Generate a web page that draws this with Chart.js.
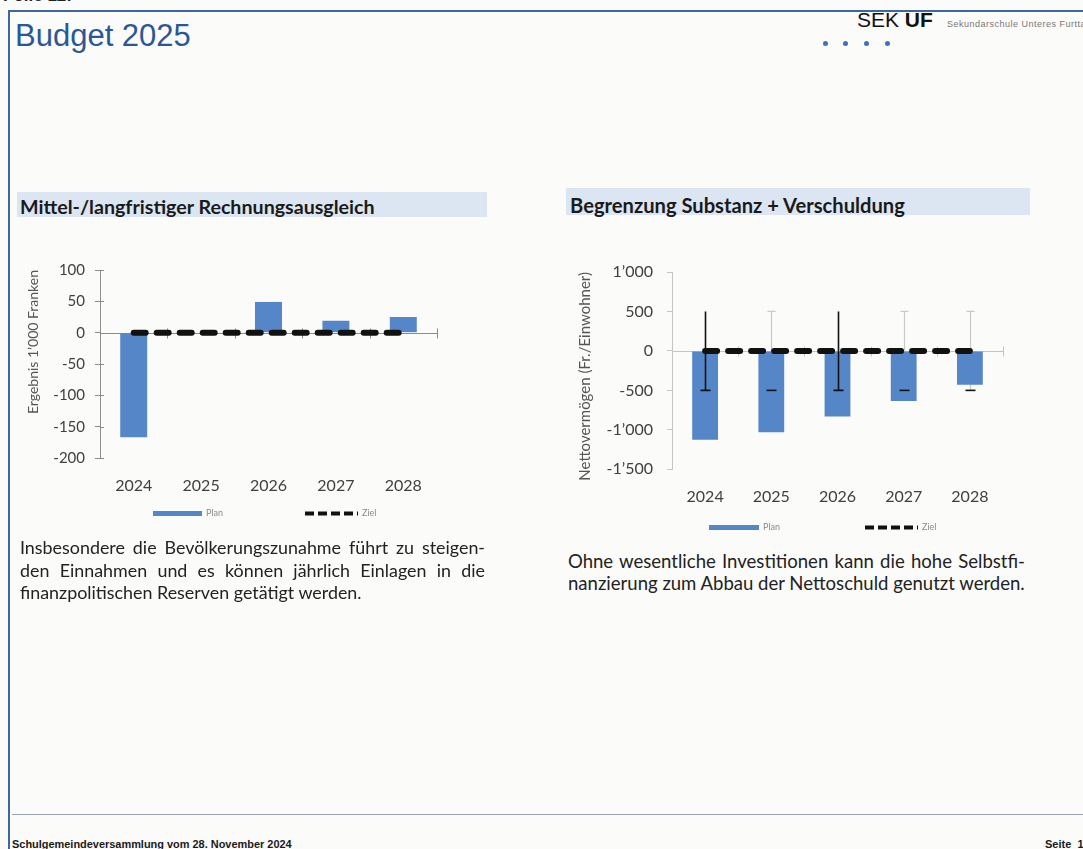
<!DOCTYPE html>
<html><head><meta charset="utf-8">
<script src="https://cdn.jsdelivr.net/npm/chart.js@4.4.1/dist/chart.umd.min.js"></script>
<style>
html,body{margin:0;padding:0;}
body{width:1083px;height:849px;background:#fbfbfa;position:relative;overflow:hidden;font-family:"Liberation Sans",Arial,sans-serif;}
.a{position:absolute;line-height:1;white-space:nowrap;}
.band{position:absolute;background:#dce6f2;}
.hdr{font-family:Lato;font-weight:bold;color:#1a1a1a;}
.para{font-family:Lato;color:#222;}
.line{position:absolute;line-height:1;white-space:nowrap;}
.j{text-align:justify;text-align-last:justify;white-space:normal;}
canvas{position:absolute;}
.dot{position:absolute;width:5px;height:5px;border-radius:50%;background:#3f72b8;}
</style></head><body>
<div class="a" style="left:3px;top:-13px;font-size:17px;font-weight:bold;color:#222;">Folie 12:</div>
<div class="a" style="left:8px;top:10px;width:1075px;border-top:2px solid #3d66a3;"></div>
<div class="a" style="left:8px;top:10px;height:839px;border-left:2px solid #3d66a3;"></div>
<div class="a" style="left:15px;top:20px;font-size:31px;color:#2b5797;">Budget 2025</div>
<div class="a" style="left:857px;top:9px;font-size:21px;color:#111;">SEK <b>UF</b></div>
<div class="a" style="left:947px;top:20px;font-size:9px;letter-spacing:0.5px;color:#777;">Sekundarschule Unteres Furttal</div>
<div class="dot" style="left:823px;top:41px;"></div>
<div class="dot" style="left:843px;top:41px;"></div>
<div class="dot" style="left:864px;top:41px;"></div>
<div class="dot" style="left:885px;top:41px;"></div>

<div class="band" style="left:17px;top:192px;width:470px;height:25px;"></div>
<div class="a hdr" id="h1" style="left:20px;top:197px;">Mittel-/langfristiger Rechnungsausgleich</div>
<div class="band" style="left:566px;top:188px;width:464px;height:27px;"></div>
<div class="a hdr" id="h2" style="left:570px;top:195px;">Begrenzung Substanz + Verschuldung</div>

<canvas id="c1" width="490" height="310" style="left:0px;top:230px;"></canvas>
<canvas id="c2" width="490" height="320" style="left:550px;top:230px;"></canvas>

<div id="p1" class="para">
<div class="line j" style="left:20px;top:539px;width:465px;">Insbesondere die Bevölkerungszunahme führt zu steigen-</div>
<div class="line j" style="left:20px;top:562px;width:465px;">den Einnahmen und es können jährlich Einlagen in die</div>
<div class="line ref" data-w="342" style="left:20px;top:584px;">finanzpolitischen Reserven getätigt werden.</div>
</div>
<div id="p2" class="para">
<div class="line j" style="left:568px;top:552px;width:457px;">Ohne wesentliche Investitionen kann die hohe Selbstfi-</div>
<div class="line ref" data-w="457" style="left:568px;top:574px;">nanzierung zum Abbau der Nettoschuld genutzt werden.</div>
</div>

<div class="a" style="left:12px;top:814px;width:1071px;border-top:1px solid #9aa6b8;"></div>
<div class="a" id="foot" style="left:12px;top:839px;font-size:11px;font-weight:bold;color:#1a1a1a;">Schulgemeindeversammlung vom 28. November 2024</div>
<div class="a" style="left:1045px;top:839px;font-size:11px;font-weight:bold;color:#1a1a1a;">Seite&nbsp;&nbsp;1</div>

<script>
// ---------- data ----------
const years = ['2024', '2025', '2026', '2027', '2028'];
const planErgebnis = [-167, 0, 49, 19, 25];
const zielErgebnis = [0, 0, 0, 0, 0];
const ergebnisMin = -200, ergebnisMax = 100, ergebnisStep = 50;

const planNetto = [-1125, -1030, -830, -635, -430];
const zielNetto = [0, 0, 0, 0, 0];
const nettoErrHigh = [500, 500, 500, 500, 500];
const nettoErrLow = [-500, -500, -500, -500, -500];
const nettoMin = -1500, nettoMax = 1000, nettoStep = 500;

const seriesNames = ['Plan', 'Ziel'];

// ---------- text fitting ----------
function fitTo(el, w, base) {
  el.style.fontSize = base + 'px';
  el.style.display = 'inline-block';
  const m = el.getBoundingClientRect().width;
  const s = base * w / m;
  el.style.fontSize = s + 'px';
  return s;
}
fitTo(document.getElementById('h1'), 355, 17);
fitTo(document.getElementById('h2'), 335, 17);
fitTo(document.getElementById('foot'), 280, 11);
['p1', 'p2'].forEach(id => {
  const p = document.getElementById(id);
  const ref = p.querySelector('.ref');
  const s = fitTo(ref, +ref.dataset.w, 15);
  p.querySelectorAll('.line').forEach(l => l.style.fontSize = s + 'px');
});

// ---------- chart setup ----------
Chart.defaults.font.family = 'Lato';
const BLUE = '#5587c8';
const DARK = '#111';

const axisMarks = {
  id: 'axisMarks',
  beforeDatasetsDraw(chart, args, o) {
    const {ctx, chartArea: a, scales: {x, y}} = chart;
    const y0 = Math.round(y.getPixelForValue(0)) + 0.5;
    ctx.save();
    ctx.strokeStyle = o.color; ctx.lineWidth = 1;
    ctx.beginPath();
    ctx.moveTo(a.left, y0); ctx.lineTo(a.right, y0);
    for (let i = 0; i < x.ticks.length; i++) {
      const px = Math.round(x.getPixelForValue(i + 0.5)) + 0.5;
      ctx.moveTo(px, y0 - o.tick); ctx.lineTo(px, y0 + o.tick);
    }
    if (o.innerY) {
      y.ticks.forEach((t, i) => {
        const py = Math.round(y.getPixelForTick(i)) + 0.5;
        ctx.moveTo(a.left, py); ctx.lineTo(a.left + o.innerY, py);
      });
    }
    ctx.stroke();
    ctx.restore();
  }
};

function drawErr(chart, o, front) {
  if (!o.high) return;
  const {ctx, scales: {x, y}} = chart;
  ctx.save();
  o.high.forEach((hi, i) => {
    const px = Math.round(x.getPixelForValue(i)) + 0.5;
    const pyH = y.getPixelForValue(hi), pyL = y.getPixelForValue(o.low[i]);
    const strong = o.strong[i];
    if (front) {
      ctx.strokeStyle = DARK;
      ctx.lineWidth = 1.6;
      ctx.beginPath();
      if (strong) { ctx.moveTo(px, pyH); ctx.lineTo(px, pyL); }
      ctx.moveTo(px - 5, pyL); ctx.lineTo(px + 5, pyL);
      ctx.stroke();
    } else if (!strong) {
      ctx.strokeStyle = '#c9c9c9';
      ctx.lineWidth = 1.2;
      ctx.beginPath();
      ctx.moveTo(px, pyH); ctx.lineTo(px, pyL);
      ctx.moveTo(px - 4, pyH); ctx.lineTo(px + 4, pyH);
      ctx.stroke();
    }
  });
  ctx.restore();
}
const errorBars = {
  id: 'errorBars',
  beforeDatasetsDraw(chart, args, o) { drawErr(chart, o, false); },
  afterDatasetsDraw(chart, args, o) { drawErr(chart, o, true); }
};

// legend drawn below the axis labels, positioned relative to the plot area
const customLegend = {
  id: 'customLegend',
  afterDraw(chart, args, o) {
    const {ctx, chartArea: a} = chart;
    const y = Math.round(a.bottom + o.dy) + 0.5;
    chart.data.datasets.forEach((d, i) => {
      const x0 = a.left + o.xs[i];
      ctx.save();
      ctx.strokeStyle = d.legendColor;
      ctx.lineWidth = d.legendWidth;
      ctx.setLineDash(d.legendDash);
      ctx.beginPath(); ctx.moveTo(x0, y); ctx.lineTo(x0 + o.w[i], y); ctx.stroke();
      ctx.setLineDash([]);
      ctx.fillStyle = '#8a8a8a';
      ctx.font = '9px Lato';
      ctx.textBaseline = 'middle';
      ctx.fillText(d.label, x0 + o.w[i] + 4, y);
      ctx.restore();
    });
  }
};

function fmt(v) {
  const s = Math.abs(v).toString().replace(/\B(?=(\d{3})+(?!\d))/g, '’');
  return (v < 0 ? '-' : '') + s;
}

function makeChart(id, cfg) {
  return new Chart(document.getElementById(id), {
    type: 'bar',
    data: {
      labels: years,
      datasets: [
        {label: seriesNames[0], data: cfg.plan, backgroundColor: BLUE, barPercentage: cfg.barPct, categoryPercentage: 1, order: 2,
         legendColor: BLUE, legendWidth: 5, legendDash: []},
        {type: 'line', label: seriesNames[1], data: cfg.ziel, borderColor: DARK, borderWidth: 6,
         borderDash: [12, 11], borderCapStyle: 'round', pointRadius: 0, order: 1,
         legendColor: DARK, legendWidth: 4, legendDash: [9, 4]}
      ]
    },
    options: {
      responsive: false, animation: false, devicePixelRatio: 1,
      layout: {padding: cfg.padding},
      plugins: {
        legend: {display: false},
        tooltip: {enabled: false},
        axisMarks: {color: cfg.axisColor, tick: 5, innerY: cfg.innerY},
        errorBars: cfg.err || {},
        customLegend: cfg.legend
      },
      scales: {
        x: {
          grid: {display: false, drawTicks: false}, border: {display: false},
          ticks: {padding: cfg.xPad, color: '#404040', font: {size: 16}},
          afterFit: s => { s.height = cfg.xH; }
        },
        y: {
          min: cfg.min, max: cfg.max,
          ticks: {stepSize: cfg.step, autoSkip: false, padding: cfg.yPad, color: '#404040', font: {size: cfg.yFont}, callback: v => fmt(v)},
          grid: {drawOnChartArea: false, tickLength: 5, color: cfg.axisColor},
          border: {color: cfg.axisColor},
          title: {display: true, align: 'end', text: cfg.title, color: '#555', font: {size: cfg.titleFont}, padding: {top: cfg.titlePad, bottom: 0}},
          afterFit: s => { s.width = cfg.yW; }
        }
      }
    },
    plugins: [axisMarks, errorBars, customLegend]
  });
}

makeChart('c1', {
  plan: planErgebnis, ziel: zielErgebnis, min: ergebnisMin, max: ergebnisMax, step: ergebnisStep,
  barPct: 0.4, padding: {top: 40, left: 0, right: 53, bottom: 37},
  axisColor: '#8c8c8c', innerY: 4, xPad: 18, xH: 45, yPad: 10, yFont: 15, yW: 100,
  title: 'Ergebnis 1’000 Franken', titleFont: 14, titlePad: 24.6,
  legend: {dy: 55, xs: [53, 205], w: [49, 53]}
});

makeChart('c2', {
  plan: planNetto, ziel: zielNetto, min: nettoMin, max: nettoMax, step: nettoStep,
  barPct: 0.39, padding: {top: 42, left: 0, right: 37, bottom: 32.7},
  axisColor: '#c4c4c4', innerY: 0, xPad: 18, xH: 48, yPad: 14, yFont: 16, yW: 122,
  title: 'Nettovermögen (Fr./Einwohner)', titleFont: 15, titlePad: 26,
  legend: {dy: 58, xs: [37, 193], w: [50, 53]},
  err: {high: nettoErrHigh, low: nettoErrLow, strong: [true, false, true, false, false]}
});
</script>
</body></html>
